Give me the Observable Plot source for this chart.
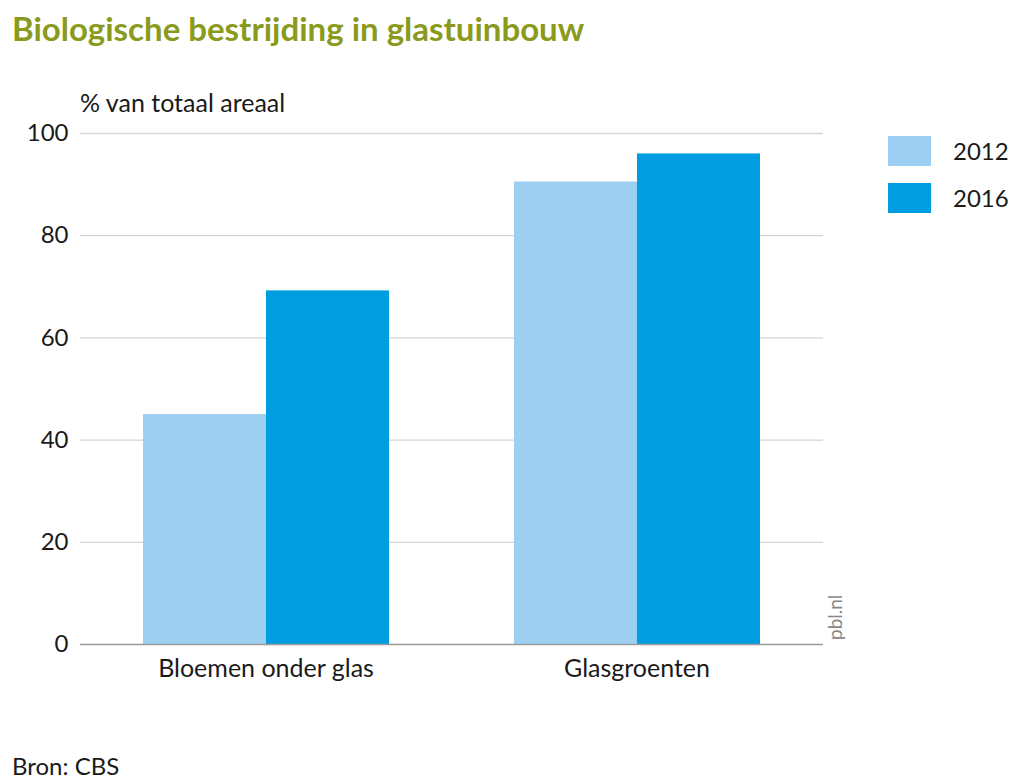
<!DOCTYPE html>
<html>
<head>
<meta charset="utf-8">
<script src="https://cdn.jsdelivr.net/npm/d3@7"></script>
<script src="https://cdn.jsdelivr.net/npm/@observablehq/plot@0.6"></script>
<style>
  html, body { margin: 0; padding: 0; background: #fff; }
  body { width: 1024px; height: 784px; position: relative; overflow: hidden; font-family: Lato, "Noto Sans", sans-serif; color: #1a1a1a; }
  .abs { position: absolute; }
  #title { left: 12px; top: 8px; font-size: 33px; font-weight: bold; color: #8a9a1c; white-space: nowrap; }
  #ylabel { left: 80px; top: 87px; font-size: 25px; white-space: nowrap; }
  #grid, #chart { left: 0; top: 120px; }
  .sw { width: 43px; height: 30px; }
  .lt { font-size: 24px; line-height: 30px; }
  #source { left: 12px; top: 751px; font-size: 24px; }
  #pbl { left: 0; top: 0; transform-origin: 0 0; transform: translate(824px, 640px) rotate(-90deg); font-size: 19px; color: #888; white-space: nowrap; line-height: 22px; }
</style>
</head>
<body>
<div id="title" class="abs">Biologische bestrijding in glastuinbouw</div>
<div id="ylabel" class="abs">% van totaal areaal</div>
<div id="grid" class="abs"></div>
<div id="chart" class="abs"></div>
<div id="legend"></div>
<div id="pbl" class="abs">pbl.nl</div>
<div id="source" class="abs">Bron: CBS</div>
<script>
const categories = ["Bloemen onder glas", "Glasgroenten"];
const years = ["2012", "2016"];
const values2012 = [45, 90.5];
const values2016 = [69.2, 96];
const yTicks = [0, 20, 40, 60, 80, 100];
const colors = ["#9dcff2", "#009ee0"];

const data = categories.flatMap((c, i) => [
  {cat: c, year: years[0], value: values2012[i]},
  {cat: c, year: years[1], value: values2016[i]}
]);

const common = {
  width: 1024,
  height: 580,
  marginTop: 13,
  marginBottom: 56,
  marginLeft: 80,
  marginRight: 201,
  style: {background: "transparent", fontFamily: "Lato, 'Noto Sans', sans-serif", fontSize: "22px", color: "#1a1a1a", overflow: "visible"},
  y: {domain: [0, 100], axis: null}
};

// Background layer: gridlines and y tick labels across the full plot width
const grid = Plot.plot({
  ...common,
  marks: [
    Plot.ruleY(yTicks.slice(1), {stroke: "#d5d5d5", strokeWidth: 1.3}),
    Plot.text(yTicks, {y: d => d, frameAnchor: "left", textAnchor: "end", dx: -12, text: d => String(d), fontSize: 24, fill: "#1a1a1a"})
  ]
});
document.getElementById("grid").appendChild(grid);

// Foreground layer: grouped bars and category labels
const chart = Plot.plot({
  ...common,
  fx: {domain: categories, paddingInner: 0.334, paddingOuter: 0.167, axis: null, label: null},
  x: {domain: years, padding: 0, axis: null},
  color: {domain: years, range: colors},
  marks: [
    Plot.barY(data, {fx: "cat", x: "year", y: "value", fill: "year"}),
    Plot.text(categories, {fx: d => d, frameAnchor: "bottom", lineAnchor: "middle", dy: 24, text: d => d, fontSize: 25, fill: "#1a1a1a"})
  ]
});
document.getElementById("chart").appendChild(chart);

// Baseline on top across full width
const base = Plot.plot({
  ...common,
  marks: [Plot.ruleY([0], {stroke: "#9a9a9a", strokeWidth: 1.6})]
});
base.classList.add("abs");
base.style.left = "0px";
base.style.top = "120px";
document.body.appendChild(base);

const legend = document.getElementById("legend");
years.forEach((y, i) => {
  const sw = document.createElement("div");
  sw.className = "abs sw";
  sw.style.left = "888px";
  sw.style.top = (136 + i * 47) + "px";
  sw.style.background = colors[i];
  legend.appendChild(sw);
  const t = document.createElement("div");
  t.className = "abs lt";
  t.style.left = "953px";
  t.style.top = (136 + i * 47) + "px";
  t.textContent = y;
  legend.appendChild(t);
});
</script>
</body>
</html>
